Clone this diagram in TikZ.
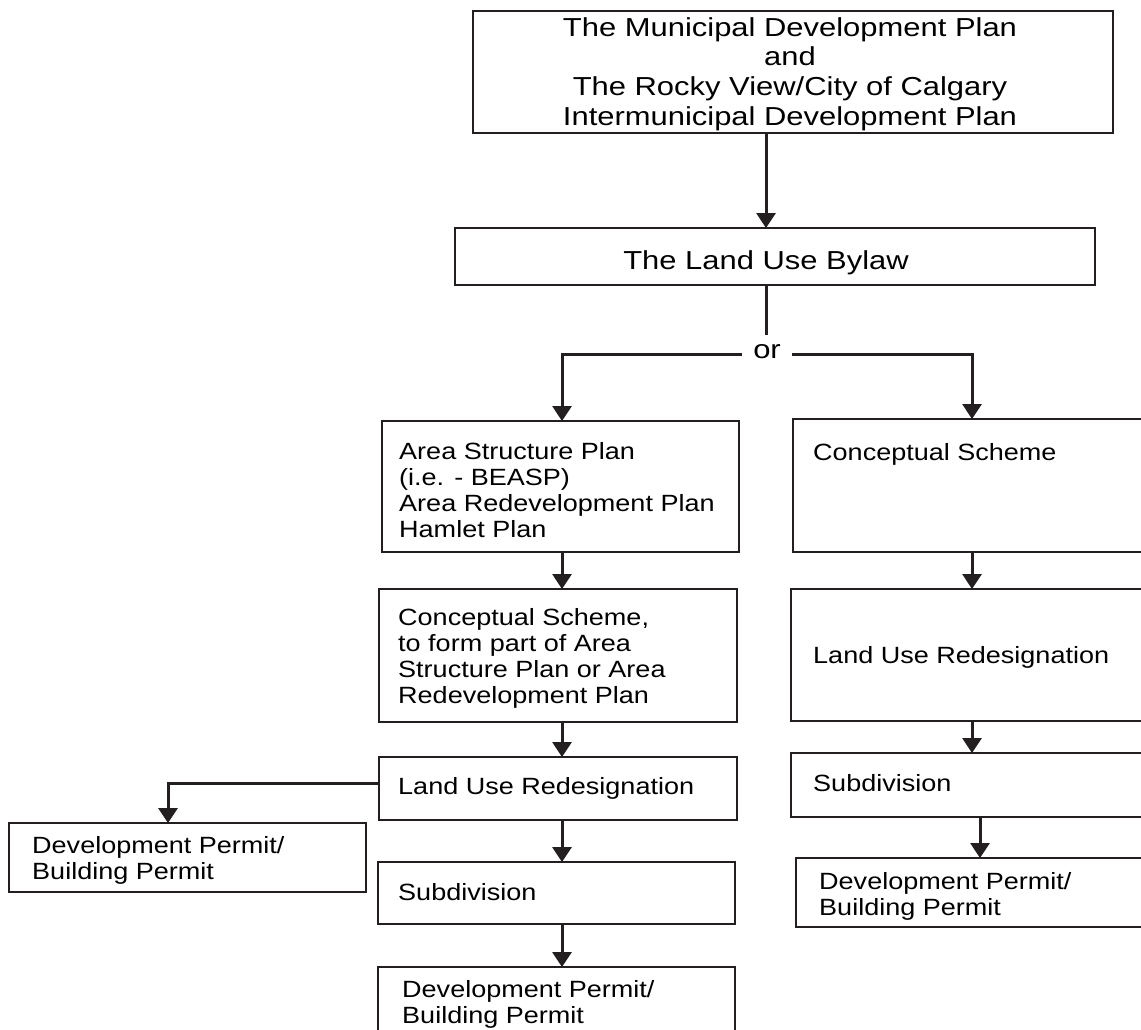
\documentclass[tikz,border=0pt]{standalone}
\usepackage{fontspec}
\newfontfamily\bodyfont[FakeStretch=1.15]{Liberation Sans}
\newfontfamily\bigfont[FakeStretch=1.19]{Liberation Sans}
\usetikzlibrary{arrows.meta}
\definecolor{ink}{HTML}{231F20}
\tikzset{
  box/.style={draw=ink, line width=2.2pt, inner sep=0pt, outer sep=0pt, anchor=north west},
  txt/.style={inner sep=0pt, anchor=base west, text=black, font=\bodyfont\fontsize{23.5}{26}\selectfont},
  bigtxt/.style={inner sep=0pt, anchor=base, text=black, font=\bigfont\fontsize{26}{29.7}\selectfont},
  ln/.style={draw=ink, line width=3pt},
  arr/.style={ln, -{Triangle[width=19pt,length=15pt]}},
}
\begin{document}
\begin{tikzpicture}[x=1pt,y=-1pt]
\useasboundingbox (0,0) rectangle (1141,1029);
\clip (0,0) rectangle (1141,1029);
\fill[white] (0,0) rectangle (1141,1029);

% x positions of connectors
\coordinate (xa) at (766,0);
\coordinate (xl) at (562,0);
\coordinate (xr) at (972,0);
\coordinate (xr2) at (980,0);
\coordinate (xd) at (168,0);

% top boxes
\node[box, minimum width=640pt, minimum height=122pt] (top) at (473,11) {};
\node[bigtxt] (ttop) at (790,36) {\begin{tabular}[t]{@{}c@{}}The Municipal Development Plan\\and\\The Rocky View/City of Calgary\\Intermunicipal Development Plan\end{tabular}};
\node[box, minimum width=640pt, minimum height=57pt] (bylaw) at (455,228) {};
\node[bigtxt] (tbylaw) at (766,269) {The Land Use Bylaw};
\node[bigtxt, inner xsep=11pt, inner ysep=8.5pt] (orn) at (767,358) {or};

% left column
\node[box, minimum width=357pt, minimum height=131pt] (asp) at (382,421) {};
\node[txt] (tasp) at (399,459) {\begin{tabular}[t]{@{}l@{}}Area Structure Plan\\(i.e. - BEASP)\\Area Redevelopment Plan\\Hamlet Plan\end{tabular}};
\node[box, minimum width=358pt, minimum height=133pt] (csl) at (379,589) {};
\node[txt] (tcsl) at (398,625) {\begin{tabular}[t]{@{}l@{}}Conceptual Scheme,\\to form part of Area\\Structure Plan or Area\\Redevelopment Plan\end{tabular}};
\node[box, minimum width=358pt, minimum height=63pt] (lurl) at (379,757) {};
\node[txt] (tlurl) at (398,794) {Land Use Redesignation};
\node[box, minimum width=357pt, minimum height=62pt] (subl) at (378,862) {};
\node[txt] (tsubl) at (398,900) {Subdivision};
\node[box, minimum width=357pt, minimum height=80pt] (dpb) at (378,967) {};
\node[txt] (tdpb) at (402,997) {\begin{tabular}[t]{@{}l@{}}Development Permit/\\Building Permit\end{tabular}};
\node[box, minimum width=357pt, minimum height=69pt] (dpl) at (9,823) {};
\node[txt] (tdpl) at (32,853) {\begin{tabular}[t]{@{}l@{}}Development Permit/\\Building Permit\end{tabular}};

% right column
\node[box, minimum width=360pt, minimum height=133pt] (csr) at (793,419) {};
\node[txt] (tcsr) at (813,460) {Conceptual Scheme};
\node[box, minimum width=362pt, minimum height=132pt] (lurr) at (791,589) {};
\node[txt] (tlurr) at (813,663) {Land Use Redesignation};
\node[box, minimum width=362pt, minimum height=64pt] (subr) at (791,753) {};
\node[txt] (tsubr) at (813,791) {Subdivision};
\node[box, minimum width=357pt, minimum height=69pt] (dpr) at (796,858) {};
\node[txt] (tdpr) at (819,889) {\begin{tabular}[t]{@{}l@{}}Development Permit/\\Building Permit\end{tabular}};

% connectors
\draw[arr] (top.south -| xa) -- (bylaw.north -| xa);
\draw[ln] (bylaw.south -| xa) -- (orn.north -| xa);
\draw[arr] ([yshift=-3pt]orn.west) -| (asp.north -| xl);
\draw[arr] ([yshift=-3pt]orn.east) -| (csr.north -| xr);

\draw[arr] (asp.south -| xl) -- (csl.north -| xl);
\draw[arr] (csl.south -| xl) -- (lurl.north -| xl);
\draw[arr] (lurl.south -| xl) -- (subl.north -| xl);
\draw[arr] (subl.south -| xl) -- (dpb.north -| xl);
\draw[arr] ([yshift=5pt]lurl.west) -| (dpl.north -| xd);

\draw[arr] (csr.south -| xr) -- (lurr.north -| xr);
\draw[arr] (lurr.south -| xr) -- (subr.north -| xr);
\draw[arr] (subr.south -| xr2) -- (dpr.north -| xr2);
\end{tikzpicture}
\end{document}
